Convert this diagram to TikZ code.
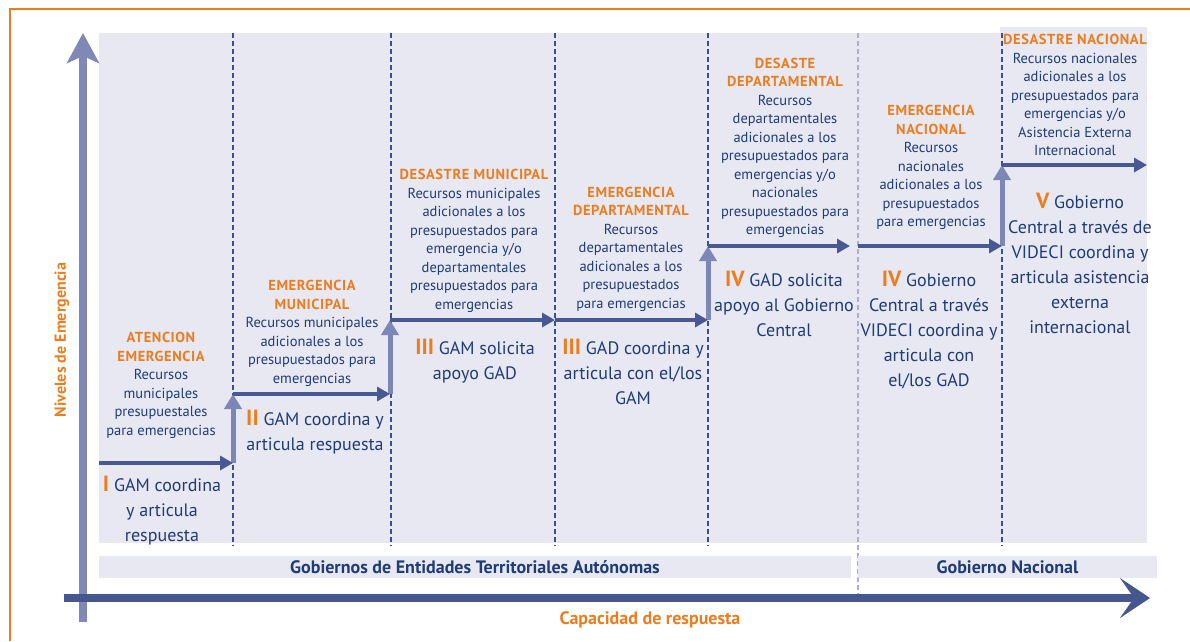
\documentclass[tikz,border=0pt]{standalone}
\usepackage{fontspec}
\setmainfont{PT Sans}
\usepackage{tikz}
\usetikzlibrary{arrows.meta,positioning}

\definecolor{naranja}{RGB}{236,125,30}
\definecolor{azultexto}{RGB}{30,60,118}
\definecolor{fondo}{RGB}{232,232,242}
\definecolor{ejex}{RGB}{70,86,143}
\definecolor{ejey}{RGB}{128,136,182}
\definecolor{linea}{RGB}{58,80,140}
\definecolor{lineaclara}{RGB}{170,174,205}
\definecolor{paso}{RGB}{72,88,146}
\definecolor{subida}{RGB}{125,135,182}

\newcommand{\nivel}[1]{\textcolor{naranja}{\bfseries\addfontfeature{LetterSpace=4}#1}}
\newcommand{\romano}[1]{\textcolor{naranja}{\fontsize{22}{25}\selectfont\bfseries #1}}

\begin{document}
\begin{tikzpicture}[x=1pt,y=-1pt,font=\fontsize{14.5}{18.5}\selectfont,text=azultexto]
    \tikzstyle{level text}=[align=center,anchor=north,inner sep=0pt]
    \tikzstyle{action text}=[level text,font=\fontsize{18}{25}\selectfont]
    \tikzstyle{band}=[fill=fondo,inner sep=0pt,minimum height=22pt,font=\fontsize{18}{20}\selectfont\bfseries]
    \tikzstyle{divider}=[draw=linea,line width=1.8pt,dash pattern=on 5pt off 3pt]
    \tikzstyle{step arrow}=[draw=paso,line width=4.5pt,-{Triangle[length=13pt,width=14pt]}]
    \tikzstyle{riser}=[draw=subida,line width=5pt,-{Triangle[length=15pt,width=17pt]}]
    \tikzstyle{axis label}=[text=naranja,font=\fontsize{18}{20}\selectfont\bfseries]

    \useasboundingbox (0,0) rectangle (1190,641);

    % Frame
    \draw[naranja,line width=2pt] (10,641) -- (10,9) -- (1190,9);

    % Background of the levels
    \fill[fondo] (99,33) rectangle (1147,543);
    \fill[fondo] (1000,27) rectangle (1147,543);

    % Draw the dividers between the levels
    \foreach \x in {233,391,555,708,1002}
        \draw[divider] (\x,33) -- (\x,546);
    \draw[divider,draw=lineaclara] (858,33) -- (858,600);

    % Bands of the governments
    \node[band,minimum width=752pt] (B-1) at (475,567) {Gobiernos de Entidades Territoriales Autónomas};
    \node[band,minimum width=299pt] (B-2) at (1007.5,567) {Gobierno Nacional};

    % Axes
    \coordinate (Y-0) at (83,622);
    \coordinate (Y-1) at (83,33);
    \coordinate (X-0) at (64,598);
    \coordinate (X-1) at (1150,598);
    \draw[draw=ejey,line width=8.5pt,-{Stealth[length=30pt,width=32pt,inset=7pt]}] (Y-0) -- (Y-1);
    \draw[draw=ejex,line width=8.5pt,-{Stealth[length=30pt,width=40pt,inset=14pt]}] (X-0) -- (X-1);
    \node[axis label,font=\fontsize{16}{18}\selectfont\bfseries,rotate=90] (ylab) at (62,340) {Niveles de Emergencia};
    \node[axis label] (xlab) at (650,620) {Capacidad de respuesta};

    % Points of the steps
    \foreach \name/\x/\y in {0/99/463,1/233/463,2/233/394,3/390/394,4/390/320,5/555/320,6/708/320,
                             7/708/246,8/850/246,9/858/246,10/1002/246,11/1002/165,12/1147/165}
        \coordinate (P-\name) at (\x,\y);

    % Connect the steps
    \foreach \source/\dest in {1/2,3/4,6/7,10/11}
        \draw[riser] (P-\source) -- (P-\dest);
    \foreach \source/\dest in {0/1,2/3,4/5,5/6,7/8,9/10,11/12}
        \draw[step arrow] (P-\source) -- (P-\dest);

    % Annotate the levels
    \node[level text] (L-1) at (161,332) {\nivel{ATENCION}\\\nivel{EMERGENCIA}\\Recursos\\municipales\\presupuestales\\para emergencias};
    \node[level text] (L-2) at (312,280) {\nivel{EMERGENCIA}\\\nivel{MUNICIPAL}\\Recursos municipales\\adicionales a los\\presupuestados para\\emergencias};
    \node[level text] (L-3) at (474,169) {\nivel{DESASTRE MUNICIPAL}\\Recursos municipales\\adicionales a los\\presupuestados para\\emergencia y/o\\departamentales\\presupuestados para\\emergencias};
    \node[level text] (L-4) at (631,186.5) {\nivel{EMERGENCIA}\\\nivel{DEPARTAMENTAL}\\Recursos\\departamentales\\adicionales a los\\presupuestados\\para emergencias};
    \node[level text] (L-5) at (785,57.5) {\nivel{DESASTE}\\\nivel{DEPARTAMENTAL}\\Recursos\\departamentales\\adicionales a los\\presupuestados para\\emergencias y/o\\nacionales\\presupuestados para\\emergencias};
    \node[level text] (L-6) at (931,105) {\nivel{EMERGENCIA}\\\nivel{NACIONAL}\\Recursos\\nacionales\\adicionales a los\\presupuestados\\para emergencias};
    \node[level text] (L-7) at (1075,34) {\nivel{DESASTRE NACIONAL}\\Recursos nacionales\\adicionales a los\\presupuestados para\\emergencias y/o\\Asistencia Externa\\Internacional};

    % Who answers at each level
    \node[action text] (A-1) at (162,476) {\romano{I} GAM coordina\\y articula\\respuesta};
    \node[action text] (A-2) at (315,410) {\romano{II} GAM coordina y\\articula respuesta};
    \node[action text] (A-3) at (475,338.5) {\romano{III} GAM solicita\\apoyo GAD};
    \node[action text] (A-4) at (633,338.5) {\romano{III} GAD coordina y\\articula con el/los\\GAM};
    \node[action text] (A-5) at (784,270.5) {\romano{IV} GAD solicita\\apoyo al Gobierno\\Central};
    \node[action text] (A-6) at (929,270.5) {\romano{IV} Gobierno\\Central a través\\VIDECI coordina y\\articula con\\el/los GAD};
    \node[action text] (A-7) at (1080,193) {\romano{V} Gobierno\\Central a través de\\VIDECI coordina y\\articula asistencia\\externa\\internacional};
\end{tikzpicture}
\end{document}
